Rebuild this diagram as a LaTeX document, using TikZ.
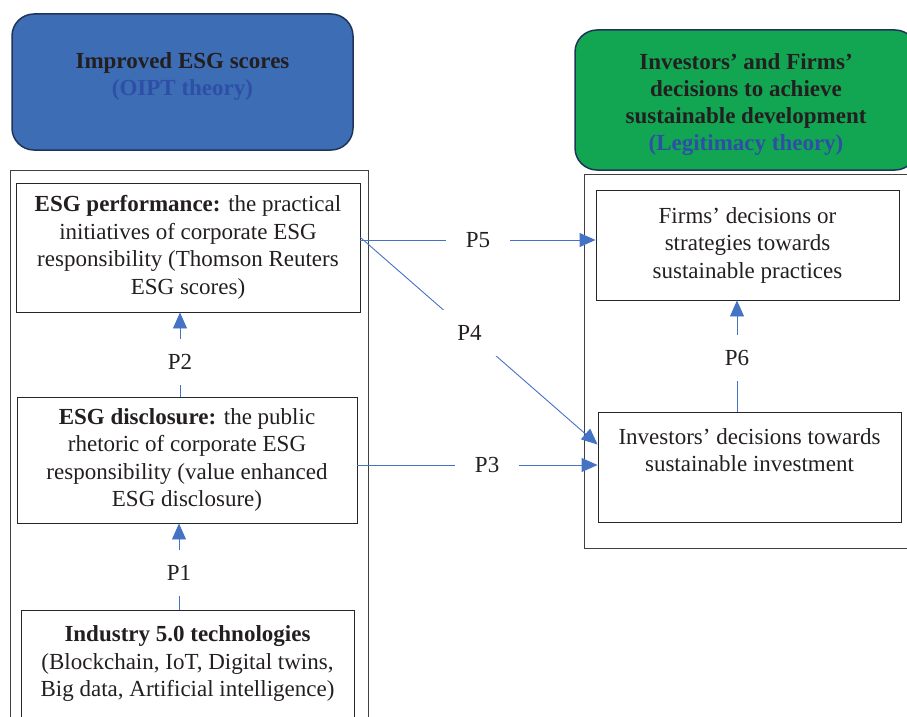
\documentclass[tikz,border=0pt]{standalone}
\usepackage{fontspec}
\setmainfont{Liberation Serif}
\usetikzlibrary{arrows.meta,calc}
\definecolor{esgblue}{HTML}{3D6DB5}
\definecolor{esggreen}{HTML}{12A652}
\definecolor{navy}{HTML}{1F3558}
\definecolor{theoryblue}{HTML}{2E4FA6}
\definecolor{arrowblue}{HTML}{4472C4}
\definecolor{ink}{HTML}{231F20}
\begin{document}
\begin{tikzpicture}[x=1pt,y=-1pt,
  font=\fontsize{23}{27.5}\selectfont, text=ink,
  header/.style={draw=navy, line width=1.5pt, rounded corners=22pt, inner sep=0pt},
  headtext/.style={align=center, font=\fontsize{23}{27}\selectfont\bfseries},
  frame/.style={draw=black!75, line width=1pt},
  box/.style={draw=black!85, line width=0.9pt, inner sep=0pt, align=center},
  conn/.style={draw=arrowblue, line width=0.9pt, -{Triangle[length=16pt,width=14pt,fill=arrowblue]}},
  lbl/.style={fill=white, inner sep=0pt, minimum width=64pt, minimum height=46pt}]
\useasboundingbox (0,0) rectangle (907,717);
\clip (0,0) rectangle (907,717);

% headers
\node[header, fill=esgblue, minimum width=341pt, minimum height=136pt] (hl) at (182.5,82) {};
\node[headtext] (hlt) at (182.5,77) {Improved ESG scores\\\textcolor{theoryblue}{(OIPT theory)}};
\node[header, fill=esggreen, minimum width=342pt, minimum height=140pt] (hr) at (746,100) {};
\node[headtext] (hrt) at (746,105) {Investors’ and Firms’\\decisions to achieve\\sustainable development\\\textcolor{theoryblue}{(Legitimacy theory)}};

% container frames
\draw[frame] (10,170) rectangle (368,740);
\draw[frame] (584,174) rectangle (920,548);

% left boxes
\node[box, minimum width=344pt, minimum height=129pt] (perf) at (188,247.5)
  {\textbf{ESG performance:} the practical\\initiatives of corporate ESG\\responsibility (Thomson Reuters\\ESG scores)};
\node[box, minimum width=340pt, minimum height=126pt] (disc) at (187,460)
  {\textbf{ESG disclosure:} the public\\rhetoric of corporate ESG\\responsibility (value enhanced\\ESG disclosure)};
\node[box, minimum width=333pt, minimum height=107pt] (ind) at (187.5,663.5)
  {\textbf{Industry 5.0 technologies}\\(Blockchain, IoT, Digital twins,\\Big data, Artificial intelligence)};

% right boxes
\node[box, minimum width=303pt, minimum height=110pt] (firms) at (747.5,245)
  {Firms’ decisions or\\strategies towards\\sustainable practices};
\node[box, minimum width=303pt, minimum height=110pt] (inv) at (749.5,467.5) {};
\node[align=center] (invt) at (749.5,450) {Investors’ decisions towards\\sustainable investment};

% connectors
\draw[conn] ([yshift=7.5pt]perf.east) -- node[lbl, pos=0.5] (l5) {P5} ([yshift=7.5pt]perf.east -| firms.west);
\draw[conn] ([yshift=10pt]perf.east) -- node[lbl, pos=0.46] (l4) {P4} ([yshift=23pt]inv.west);
\draw[conn] ([yshift=-5pt]disc.east) -- node[lbl, pos=0.54] (l3) {P3} ([yshift=-5pt]disc.east -| inv.west);
\draw[conn] ([xshift=-7pt]disc.north) -- node[lbl, pos=0.41] (l2) {P2} ([xshift=-7pt]disc.north |- perf.south);
\draw[conn] ([xshift=-8.5pt]ind.north) -- node[lbl, pos=0.43] (l1) {P1} ([xshift=-8.5pt]ind.north |- disc.south);
\draw[conn] ([xshift=-12.5pt]inv.north) -- node[lbl, pos=0.48] (l6) {P6} ([xshift=-12.5pt]inv.north |- firms.south);
\end{tikzpicture}
\end{document}
